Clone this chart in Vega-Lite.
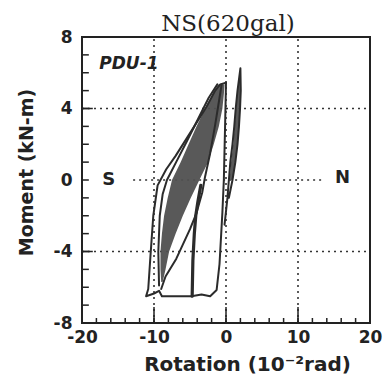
{
  "$schema": "https://vega.github.io/schema/vega-lite/v6.json",
  "width": 288,
  "height": 286,
  "autosize": {"type": "none"},
  "padding": {"left": 82, "top": 37, "right": 16, "bottom": 60},
  "background": "white",
  "config": {
    "view": {"stroke": "#222", "strokeWidth": 2},
    "font": "DejaVu Sans",
    "axis": {"grid": false, "domain": false, "ticks": false, "labelOverlap": false, "labelBound": false, "labelFlush": false, "labelFont": "DejaVu Sans", "labelFontWeight": "bold", "labelFontSize": 17, "labelColor": "#222", "titleFont": "DejaVu Sans", "titleFontWeight": "bold", "titleColor": "#222"}
  },
  "resolve": {"axis": {"x": "independent", "y": "independent"}},
  "title": {"text": "NS(620gal)", "font": "DejaVu Serif", "fontSize": 23, "fontWeight": "normal", "color": "#222", "frame": "group", "anchor": "middle", "baseline": "alphabetic", "offset": 0, "dx": 2, "dy": 26},
  "datasets": {
    "grid": [
      {"x1": -20, "x2": 20, "y1": 4, "y2": 4},
      {"x1": -12.9, "x2": 13.5, "y1": 0, "y2": 0},
      {"x1": -20, "x2": 20, "y1": -4, "y2": -4},
      {"x1": -10, "x2": -10, "y1": -8, "y2": 8},
      {"x1": 0, "x2": 0, "y1": -8, "y2": 8},
      {"x1": 10, "x2": 10, "y1": -8, "y2": 8}
    ],
    "ticks": [
      {"axis": "x", "v": -18, "major": false}, {"axis": "x", "v": -16, "major": false}, {"axis": "x", "v": -14, "major": false}, {"axis": "x", "v": -12, "major": false},
      {"axis": "x", "v": -10, "major": true},
      {"axis": "x", "v": -8, "major": false}, {"axis": "x", "v": -6, "major": false}, {"axis": "x", "v": -4, "major": false}, {"axis": "x", "v": -2, "major": false},
      {"axis": "x", "v": 0, "major": true},
      {"axis": "x", "v": 2, "major": false}, {"axis": "x", "v": 4, "major": false}, {"axis": "x", "v": 6, "major": false}, {"axis": "x", "v": 8, "major": false},
      {"axis": "x", "v": 10, "major": true},
      {"axis": "x", "v": 12, "major": false}, {"axis": "x", "v": 14, "major": false}, {"axis": "x", "v": 16, "major": false}, {"axis": "x", "v": 18, "major": false},
      {"axis": "y", "v": -7, "major": false}, {"axis": "y", "v": -6, "major": false}, {"axis": "y", "v": -5, "major": false},
      {"axis": "y", "v": -4, "major": true},
      {"axis": "y", "v": -3, "major": false}, {"axis": "y", "v": -2, "major": false}, {"axis": "y", "v": -1, "major": false},
      {"axis": "y", "v": 0, "major": false},
      {"axis": "y", "v": 1, "major": false}, {"axis": "y", "v": 2, "major": false}, {"axis": "y", "v": 3, "major": false},
      {"axis": "y", "v": 4, "major": true},
      {"axis": "y", "v": 5, "major": false}, {"axis": "y", "v": 6, "major": false}, {"axis": "y", "v": 7, "major": false}
    ],
    "bands": [
      {"id": "main", "y": -5.7, "xl": -9.0, "xr": -8.8},
      {"id": "main", "y": -5.0, "xl": -9.1, "xr": -8.4},
      {"id": "main", "y": -4.0, "xl": -9.1, "xr": -7.9},
      {"id": "main", "y": -3.0, "xl": -8.9, "xr": -7.0},
      {"id": "main", "y": -2.0, "xl": -8.6, "xr": -6.0},
      {"id": "main", "y": -1.0, "xl": -8.1, "xr": -4.9},
      {"id": "main", "y": 0.0, "xl": -7.5, "xr": -3.7},
      {"id": "main", "y": 1.0, "xl": -6.3, "xr": -2.5},
      {"id": "main", "y": 2.0, "xl": -5.2, "xr": -1.7},
      {"id": "main", "y": 3.0, "xl": -4.1, "xr": -1.0},
      {"id": "main", "y": 4.0, "xl": -2.9, "xr": -0.5},
      {"id": "main", "y": 4.8, "xl": -1.9, "xr": -0.3},
      {"id": "main", "y": 5.35, "xl": -1.0, "xr": -0.2},
      {"id": "spike", "y": 0.0, "xl": 0.5, "xr": 0.9},
      {"id": "spike", "y": 1.0, "xl": 0.7, "xr": 1.3},
      {"id": "spike", "y": 2.0, "xl": 1.0, "xr": 1.6},
      {"id": "spike", "y": 3.0, "xl": 1.2, "xr": 1.8},
      {"id": "spike", "y": 4.0, "xl": 1.4, "xr": 1.95},
      {"id": "spike", "y": 5.0, "xl": 1.6, "xr": 2.05},
      {"id": "spike", "y": 6.0, "xl": 1.95, "xr": 2.05}
    ],
    "loops": [
      {"id": "outer", "i": 0, "x": -1.3, "y": -6.15},
      {"id": "outer", "i": 1, "x": -2.2, "y": -6.5},
      {"id": "outer", "i": 2, "x": -3.4, "y": -6.4},
      {"id": "outer", "i": 3, "x": -4.8, "y": -6.5},
      {"id": "outer", "i": 4, "x": -8.9, "y": -6.5},
      {"id": "outer", "i": 5, "x": -9.3, "y": -6.2},
      {"id": "outer", "i": 6, "x": -10.0, "y": -6.35},
      {"id": "outer", "i": 7, "x": -11.1, "y": -6.5},
      {"id": "outer", "i": 8, "x": -10.8, "y": -6.1},
      {"id": "outer", "i": 9, "x": -10.5, "y": -4.3},
      {"id": "outer", "i": 10, "x": -10.1, "y": -2.0},
      {"id": "outer", "i": 11, "x": -9.5, "y": -0.3},
      {"id": "outer", "i": 12, "x": -8.3, "y": 0.6},
      {"id": "outer", "i": 13, "x": -7.0, "y": 1.35},
      {"id": "outer", "i": 14, "x": -4.8, "y": 2.75},
      {"id": "outer", "i": 15, "x": -2.7, "y": 4.1},
      {"id": "outer", "i": 16, "x": -1.5, "y": 5.0},
      {"id": "outer", "i": 17, "x": -0.8, "y": 5.35},
      {"id": "outer", "i": 18, "x": 0.0, "y": 5.45},
      {"id": "outer", "i": 19, "x": -0.1, "y": 3.5},
      {"id": "outer", "i": 20, "x": -0.3, "y": 0.0},
      {"id": "outer", "i": 21, "x": -0.5, "y": -1.8},
      {"id": "outer", "i": 22, "x": -0.9, "y": -4.7},
      {"id": "outer", "i": 23, "x": -1.3, "y": -6.15},
      {"id": "inner", "i": 0, "x": -9.3, "y": -5.9},
      {"id": "inner", "i": 1, "x": -9.4, "y": -4.0},
      {"id": "inner", "i": 2, "x": -9.2, "y": -2.0},
      {"id": "inner", "i": 3, "x": -8.8, "y": -0.8},
      {"id": "inner", "i": 4, "x": -8.2, "y": 0.0},
      {"id": "inner", "i": 5, "x": -6.8, "y": 1.1},
      {"id": "inner", "i": 6, "x": -5.4, "y": 2.2},
      {"id": "inner", "i": 7, "x": -3.9, "y": 3.4},
      {"id": "inner", "i": 8, "x": -2.4, "y": 4.6},
      {"id": "inner", "i": 9, "x": -1.2, "y": 5.35},
      {"id": "diag", "i": 0, "x": -9.0, "y": -6.1},
      {"id": "diag", "i": 1, "x": -8.4, "y": -5.4},
      {"id": "diag", "i": 2, "x": -6.9, "y": -4.4},
      {"id": "diag", "i": 3, "x": -5.0, "y": -2.75},
      {"id": "diag", "i": 4, "x": -4.1, "y": -1.85},
      {"id": "diag", "i": 5, "x": -3.3, "y": -0.7},
      {"id": "diag", "i": 6, "x": -2.9, "y": 0.2},
      {"id": "diag", "i": 7, "x": -2.2, "y": 1.5},
      {"id": "diag", "i": 8, "x": -1.5, "y": 3.1},
      {"id": "diag", "i": 9, "x": -0.9, "y": 4.6},
      {"id": "diag", "i": 10, "x": -0.6, "y": 5.35},
      {"id": "vert", "i": 0, "x": -4.7, "y": -6.5},
      {"id": "vert", "i": 1, "x": -4.6, "y": -4.5},
      {"id": "vert", "i": 2, "x": -4.4, "y": -3.0},
      {"id": "vert", "i": 3, "x": -4.2, "y": -2.0},
      {"id": "vert", "i": 4, "x": -3.9, "y": -1.2},
      {"id": "vert", "i": 5, "x": -3.5, "y": -0.3},
      {"id": "spike", "i": 0, "x": -0.2, "y": -2.5},
      {"id": "spike", "i": 1, "x": 0.2, "y": -1.0},
      {"id": "spike", "i": 2, "x": 0.4, "y": 0.0},
      {"id": "spike", "i": 3, "x": 0.6, "y": 1.0},
      {"id": "spike", "i": 4, "x": 0.9, "y": 2.0},
      {"id": "spike", "i": 5, "x": 1.15, "y": 3.0},
      {"id": "spike", "i": 6, "x": 1.35, "y": 4.0},
      {"id": "spike", "i": 7, "x": 1.6, "y": 5.0},
      {"id": "spike", "i": 8, "x": 2.0, "y": 6.25},
      {"id": "spike", "i": 9, "x": 2.05, "y": 5.0},
      {"id": "spike", "i": 10, "x": 1.95, "y": 4.0},
      {"id": "spike", "i": 11, "x": 1.8, "y": 3.0},
      {"id": "spike", "i": 12, "x": 1.6, "y": 2.0},
      {"id": "spike", "i": 13, "x": 1.3, "y": 1.0},
      {"id": "spike", "i": 14, "x": 0.9, "y": 0.0},
      {"id": "spike", "i": 15, "x": 0.4, "y": -1.0}
    ],
    "dirs": [
      {"t": "S", "x": -16.3, "y": 0.0},
      {"t": "N", "x": 16.2, "y": 0.1}
    ],
    "tag": [
      {"t": "PDU-1", "x": -17.6, "y": 6.2}
    ]
  },
  "layer": [
    {
      "data": {"name": "grid"},
      "mark": {"type": "rule", "stroke": "#333", "strokeWidth": 1.6, "strokeDash": [2, 4]},
      "encoding": {
        "x": {"field": "x1", "type": "quantitative", "scale": {"domain": [-20, 20], "nice": false, "zero": false},
          "axis": {
            "orient": "bottom",
            "title": "Rotation (10⁻²rad)",
            "values": [-20, -10, 0, 10, 20],
            "labelExpr": "'' + datum.value",
            "offset": 4,
            "titleFontSize": 20, "titleX": 165, "titleY": 43, "titleBaseline": "alphabetic", "titleAlign": "center"
          }},
        "x2": {"field": "x2"},
        "y": {"field": "y1", "type": "quantitative", "scale": {"domain": [-8, 8], "nice": false, "zero": false},
          "axis": {
            "orient": "left",
            "title": "Moment (kN-m)",
            "values": [-8, -4, 0, 4, 8],
            "labelExpr": "'' + datum.value",
            "offset": 8,
            "titleFontSize": 19, "titleX": -42, "titleY": 135, "titleAngle": 270, "titleBaseline": "alphabetic", "titleAlign": "center"
          }},
        "y2": {"field": "y2"}
      }
    },
    {
      "data": {"name": "ticks"},
      "transform": [{"filter": "datum.axis === 'x'"}],
      "mark": {"type": "rule", "stroke": "#222", "strokeWidth": 1.5},
      "encoding": {
        "x": {"field": "v", "type": "quantitative", "axis": null},
        "y": {"datum": -8, "type": "quantitative", "axis": null},
        "y2": {"datum": -7.72}
      }
    },
    {
      "data": {"name": "ticks"},
      "transform": [{"filter": "datum.axis === 'x' && datum.major"}],
      "mark": {"type": "rule", "stroke": "#222", "strokeWidth": 1.5},
      "encoding": {
        "x": {"field": "v", "type": "quantitative", "axis": null},
        "y": {"datum": -8, "type": "quantitative", "axis": null},
        "y2": {"datum": -7.1}
      }
    },
    {
      "data": {"name": "ticks"},
      "transform": [{"filter": "datum.axis === 'y'"}],
      "mark": {"type": "rule", "stroke": "#222", "strokeWidth": 1.5},
      "encoding": {
        "y": {"field": "v", "type": "quantitative", "axis": null},
        "x": {"datum": -20, "type": "quantitative", "axis": null},
        "x2": {"datum": -19.05}
      }
    },
    {
      "data": {"name": "ticks"},
      "transform": [{"filter": "datum.axis === 'y' && datum.major"}],
      "mark": {"type": "rule", "stroke": "#222", "strokeWidth": 1.5},
      "encoding": {
        "y": {"field": "v", "type": "quantitative", "axis": null},
        "x": {"datum": -20, "type": "quantitative", "axis": null},
        "x2": {"datum": -18.5}
      }
    },
    {
      "data": {"name": "bands"},
      "mark": {"type": "area", "orient": "horizontal", "fill": "#505050", "opacity": 0.95},
      "encoding": {
        "y": {"field": "y", "type": "quantitative", "axis": null},
        "x": {"field": "xl", "type": "quantitative", "axis": null},
        "x2": {"field": "xr"},
        "detail": {"field": "id"}
      }
    },
    {
      "data": {"name": "loops"},
      "mark": {"type": "line", "stroke": "#2b2b2b", "strokeJoin": "round", "strokeCap": "round"},
      "encoding": {
        "x": {"field": "x", "type": "quantitative", "axis": null},
        "y": {"field": "y", "type": "quantitative", "axis": null},
        "detail": {"field": "id"},
        "order": {"field": "i"},
        "strokeWidth": {"condition": {"test": "datum.id === 'vert'", "value": 3.2}, "value": 2}
      }
    },
    {
      "data": {"name": "dirs"},
      "mark": {"type": "text", "font": "DejaVu Sans", "fontWeight": "bold", "fontSize": 18, "color": "#222", "baseline": "middle", "align": "center"},
      "encoding": {
        "x": {"field": "x", "type": "quantitative", "axis": null},
        "y": {"field": "y", "type": "quantitative", "axis": null},
        "text": {"field": "t"}
      }
    },
    {
      "data": {"name": "tag"},
      "mark": {"type": "text", "font": "DejaVu Sans", "fontWeight": "bold", "fontStyle": "italic", "fontSize": 17, "color": "#222", "baseline": "alphabetic", "align": "left"},
      "encoding": {
        "x": {"field": "x", "type": "quantitative", "axis": null},
        "y": {"field": "y", "type": "quantitative", "axis": null},
        "text": {"field": "t"}
      }
    }
  ]
}
